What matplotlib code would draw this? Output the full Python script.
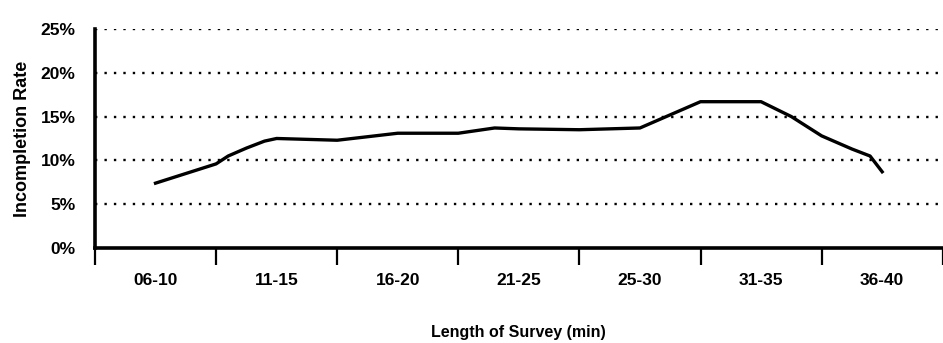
import matplotlib
matplotlib.use("Agg")
import matplotlib.pyplot as plt
from matplotlib.ticker import FixedLocator, FuncFormatter, NullFormatter

# category labels (5-minute bins) and bin edges in minutes
categories = ["06-10", "11-15", "16-20", "21-25", "25-30", "31-35", "36-40"]
bin_centers = [8, 13, 18, 23, 28, 33, 38]
bin_edges = [5.5, 10.5, 15.5, 20.5, 25.5, 30.5, 35.5, 40.5]

# traced line: survey length (min) vs incompletion rate (%)
minutes = [8, 10.5, 11, 11.75, 12.5, 13, 15.5, 18, 20.5, 22, 23, 25.5,
           28, 30.5, 33, 34.25, 35.5, 36.75, 37.5, 38]
rate = [7.4, 9.6, 10.5, 11.4, 12.2, 12.5, 12.3, 13.1, 13.1, 13.7, 13.6, 13.5,
        13.7, 16.7, 16.7, 15.0, 12.8, 11.3, 10.5, 8.7]

yticks = [0, 5, 10, 15, 20, 25]

plt.rcParams["font.family"] = ["Liberation Sans", "DejaVu Sans"]
plt.rcParams["font.weight"] = "bold"

fig = plt.figure(figsize=(9.43, 3.43), dpi=100)
ax = fig.add_axes([0.1007, 0.277, 0.899, 0.6385])

ax.plot(minutes, rate, color="black", lw=2.4, solid_joinstyle="round")

ax.set_xlim(bin_edges[0], bin_edges[-1])
ax.set_ylim(0, 25)

# x: ticks at bin edges, labels at bin centres
ax.xaxis.set_major_locator(FixedLocator(bin_edges))
ax.xaxis.set_major_formatter(NullFormatter())
ax.xaxis.set_minor_locator(FixedLocator(bin_centers))
ax.set_xticklabels(categories, minor=True)
ax.tick_params(axis="x", which="major", length=12, width=1.6, direction="out")
ax.tick_params(axis="x", which="minor", length=0, pad=18, labelsize=12.5)

ax.set_yticks(yticks)
ax.yaxis.set_major_formatter(FuncFormatter(lambda v, p: f"{v:.0f}%"))
ax.tick_params(axis="y", length=0, pad=14, labelsize=12.5)

for s in ["top", "right"]:
    ax.spines[s].set_visible(False)
for s in ["left", "bottom"]:
    ax.spines[s].set_linewidth(2.6)

for v in yticks[1:]:
    ax.axhline(v, color="black", lw=1.7, ls=(0, (1.0, 3.0)), zorder=0)

ax.set_ylabel("Incompletion Rate", fontsize=13, fontweight="bold", labelpad=7)
ax.set_xlabel("Length of Survey (min)", fontsize=11.5, fontweight="bold", labelpad=27)

fig.savefig("out.png", dpi=100)
